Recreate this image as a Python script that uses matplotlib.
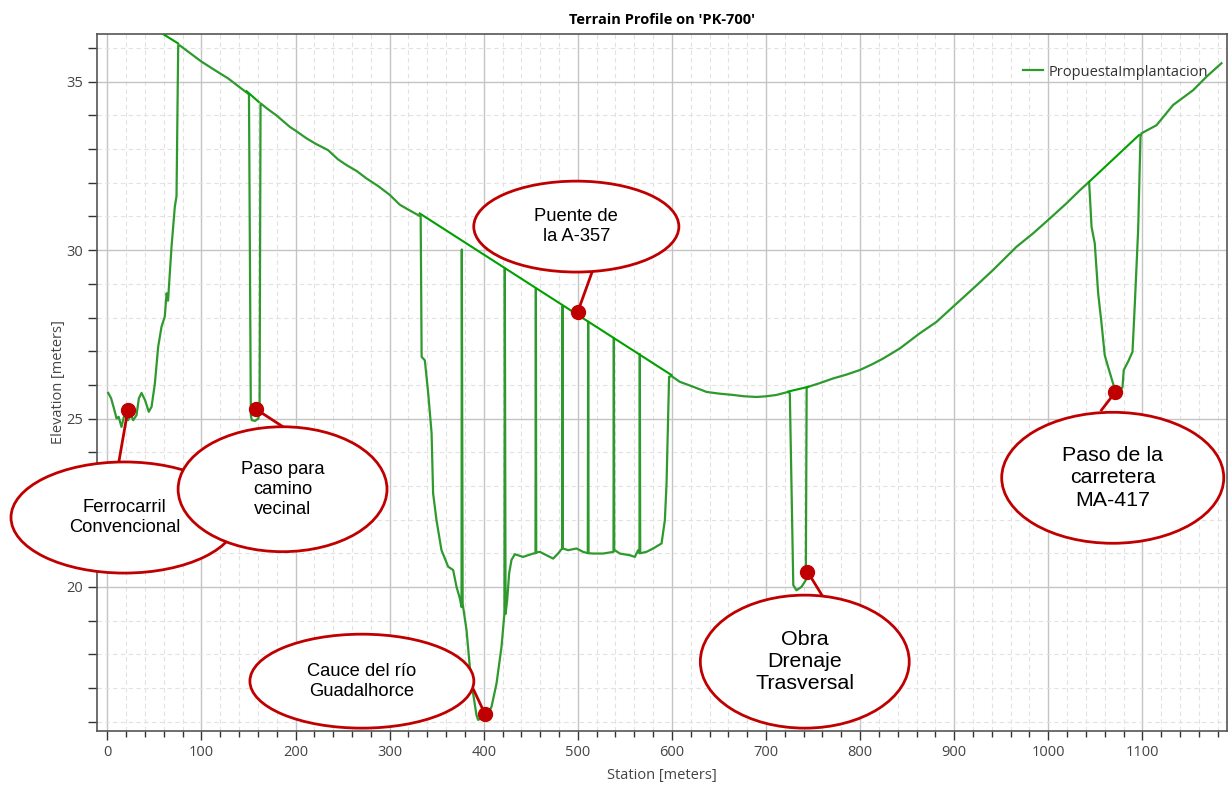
import matplotlib
matplotlib.use("Agg")
import matplotlib.pyplot as plt
from matplotlib.patches import Ellipse
from matplotlib.ticker import MultipleLocator

# terrain profile (station [m], elevation [m])
station = [0.9, 4, 7, 9.8, 12, 15, 18, 22, 25, 27.4, 31, 33.5, 36.3, 40, 44, 47,
           50.5, 54, 57.6, 61, 63, 64.5, 68.2, 71.7, 73.5, 75.3, 77, 88, 100, 114,
           128.4, 140, 149.6, 150.5, 152.5, 153.5, 157, 160.5, 161.8, 162.8, 163.8,
           170, 179.8, 194, 200, 211.7, 222, 234.6, 245, 254, 265, 275.4, 288,
           300.2, 310.8, 320, 330.3, 333, 334, 337.4, 341, 344.6, 346.2, 349.8,
           355.1, 362.2, 367.5, 371.1, 374.6, 376.4, 376.7, 377.6, 381.7, 385.2,
           388.7, 392.3, 394, 397.7, 401, 403.6, 408.3, 413.6, 418.9, 422.0, 422.4,
           423.2, 424.9, 427, 429.5, 433, 441.9, 452.5, 455.0, 455.4, 455.8, 459.6,
           466.7, 473.8, 479, 483.3, 483.7, 484.1, 489.7, 498.6, 505.6, 510.6, 511,
           511.4, 516.3, 526.9, 537.9, 538.3, 538.7, 544.6, 555.3, 560.6, 564.1,
           565.5, 565.9, 566.3, 573, 580, 589, 592.5, 594.3, 597, 599.6, 608.4,
           622, 636.8, 650, 665, 677, 689.9, 700, 711.1, 723.5, 725.3, 729, 732.4,
           737.7, 742.3, 743.2, 744.7, 757, 771.3, 785, 799.7, 812, 824.4, 842.2,
           863.4, 881.2, 898.8, 920.1, 941.3, 966.2, 983.9, 1001.6, 1019.3, 1033.6,
           1043.4, 1046, 1049.4, 1053, 1056.6, 1060, 1063.5, 1068.8, 1071.4, 1075,
           1078.9, 1080.2, 1085, 1089.5, 1092, 1095.5, 1098, 1099, 1115, 1132.6,
           1153.9, 1168.1, 1184]
elevation = [25.76, 25.6, 25.3, 25.0, 25.05, 24.75, 25.1, 24.95, 25.1, 24.95, 25.1,
             25.6, 25.76, 25.55, 25.2, 25.35, 26.04, 27.13, 27.73, 28.02, 28.72,
             28.5, 30.1, 31.29, 31.6, 36.09, 36.08, 35.85, 35.6, 35.35, 35.1, 34.85,
             34.65, 34.63, 25.1, 24.95, 24.93, 25.0, 25.3, 34.36, 34.34, 34.2, 34.0,
             33.66, 33.55, 33.32, 33.15, 32.97, 32.7, 32.53, 32.35, 32.13, 31.9,
             31.64, 31.35, 31.2, 31.04, 31.0, 26.83, 26.73, 25.75, 24.56, 22.78,
             21.98, 21.09, 20.6, 20.5, 20.0, 19.66, 19.4, 30.02, 19.5, 18.72, 17.63,
             16.84, 16.19, 16.05, 16.1, 16.1, 16.19, 16.44, 17.13, 18.22, 19.21,
             29.46, 19.2, 19.6, 20.4, 20.8, 20.97, 20.89, 20.99, 21.0, 28.86, 21.02,
             21.04, 20.94, 20.84, 20.99, 21.14, 28.34, 21.14, 21.09, 21.14, 21.04,
             21.0, 27.87, 21.0, 20.99, 20.99, 21.04, 27.38, 21.1, 20.99, 20.94,
             20.89, 21.09, 21.0, 26.91, 21.0, 21.04, 21.14, 21.29, 21.98, 23.07,
             26.24, 26.26, 26.09, 25.95, 25.79, 25.74, 25.7, 25.66, 25.64, 25.66,
             25.7, 25.79, 25.75, 20.05, 19.9, 20.0, 20.2, 25.92, 25.94, 26.05, 26.19,
             26.3, 26.44, 26.6, 26.78, 27.08, 27.53, 27.87, 28.32, 28.86, 29.41,
             30.1, 30.5, 30.94, 31.39, 31.78, 32.03, 30.69, 30.2, 28.72, 27.82,
             26.88, 26.54, 26.04, 25.8, 25.75, 25.94, 26.44, 26.7, 26.98, 28.42,
             30.6, 33.37, 33.47, 33.71, 34.31, 34.75, 35.15, 35.55]

# structure decks: (start station, start elev, end station, end elev)
decks = [(50, 36.58, 75.2, 36.14),
         (148, 34.72, 161, 34.40),
         (332, 31.09, 599.6, 26.29),
         (723.5, 25.80, 744.7, 25.94),
         (1043.4, 32.03, 1096.5, 33.42)]

# callouts
labels = ["Ferrocarril\nConvencional", "Paso para\ncamino\nvecinal",
          "Cauce del río\nGuadalhorce", "Puente de\nla A-357",
          "Obra\nDrenaje\nTrasversal", "Paso de la\ncarretera\nMA-417"]
dot_station = [21.8, 157.8, 401.6, 499.7, 744.1, 1071.4]
dot_elev = [25.25, 25.28, 16.21, 28.15, 20.45, 25.79]

# layout of the callouts (data units)
tail_end = [(12.2, 23.71), (188.6, 24.72), (389.5, 16.93), (514.9, 29.33),
            (760, 19.73), (1056.5, 25.25)]
ell_center = [(18.1, 22.06), (186.2, 22.90), (270.5, 17.20), (498.4, 30.70),
              (741.2, 17.78), (1068.5, 23.24)]
ell_size = [(241, 3.30), (222, 3.71), (238, 2.79), (218, 2.70), (222, 3.95),
            (236, 3.89)]
text_size = [13.2, 13.2, 13.2, 13.2, 15.4, 15.4]

red = "#c00000"
terrain_color = "#2e9a2e"
deck_color = "#00a000"

fig = plt.figure(figsize=(12.31, 7.85), dpi=100)
ax = fig.add_axes([0.0788, 0.0688, 0.918, 0.8879])

ax.plot(station, elevation, color=terrain_color, lw=1.6, zorder=3,
        label="PropuestaImplantacion", solid_joinstyle="round")
for x0, y0, x1, y1 in decks:
    ax.plot([x0, x1], [y0, y1], color=deck_color, lw=1.5, zorder=3)

ax.set_xlim(-11, 1190)
ax.set_ylim(15.72, 36.42)
ax.xaxis.set_major_locator(MultipleLocator(100))
ax.xaxis.set_minor_locator(MultipleLocator(20))
ax.yaxis.set_major_locator(MultipleLocator(5))
ax.yaxis.set_minor_locator(MultipleLocator(1))
ax.grid(which="major", color="#c4c4c4", lw=1.0, zorder=0)
ax.grid(which="minor", color="#e2e2e2", lw=0.8, ls=(0, (4, 3)), zorder=0)
ax.set_axisbelow(True)

ax.tick_params(which="both", direction="out", color="#333333",
               labelcolor="#444444", labelsize=10.5)
ax.tick_params(which="major", length=6.5, width=1)
ax.tick_params(axis="x", which="minor", length=4.5, width=1)
ax.tick_params(axis="y", which="minor", length=6.5, width=1)
for sp in ax.spines.values():
    sp.set_color("#555555")
    sp.set_linewidth(1.2)

font = "Open Sans"
for lab in ax.get_xticklabels() + ax.get_yticklabels():
    lab.set_family(font)
ax.set_xlabel("Station [meters]", family=font, fontsize=10.5, color="#444444",
              labelpad=6)
ax.set_ylabel("Elevation [meters]", family=font, fontsize=10.5, color="#444444",
              labelpad=0)
ax.set_title("Terrain Profile on 'PK-700'", family=font, fontsize=10.5,
             fontweight="bold", pad=7)

leg = ax.legend(loc="upper right", bbox_to_anchor=(0.995, 0.975), frameon=False,
                handlelength=1.4, handletextpad=0.4,
                prop={"family": font, "size": 10.5})
for t in leg.get_texts():
    t.set_color("#333333")

for i, text in enumerate(labels):
    ax.plot([dot_station[i], tail_end[i][0]], [dot_elev[i], tail_end[i][1]],
            color=red, lw=2, zorder=4, clip_on=False)
    e = Ellipse(ell_center[i], ell_size[i][0], ell_size[i][1], facecolor="white",
                edgecolor=red, lw=2, zorder=5 + i * 0.1, clip_on=False)
    ax.add_patch(e)
    ax.text(ell_center[i][0], ell_center[i][1], text, ha="center", va="center",
            family="Liberation Sans", fontsize=text_size[i], linespacing=1.22,
            zorder=5.05 + i * 0.1)
    ax.plot(dot_station[i], dot_elev[i], "o", color=red, ms=10, zorder=7,
            clip_on=False)

fig.savefig("out.png", dpi=100)
